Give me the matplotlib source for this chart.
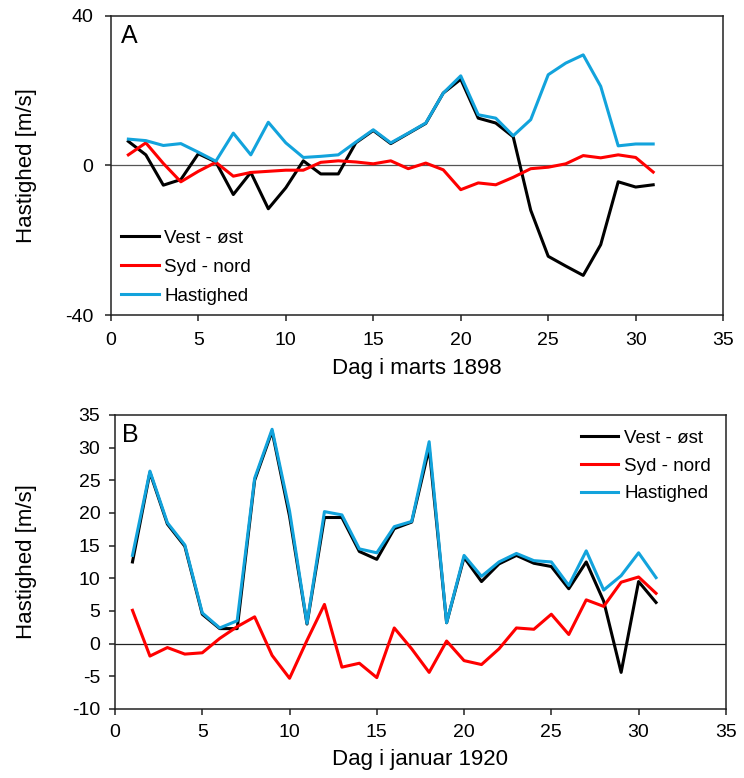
import matplotlib
matplotlib.use("Agg")
import matplotlib.pyplot as plt

plt.rcParams['font.family'] = ['Liberation Sans', 'DejaVu Sans']
plt.rcParams['axes.unicode_minus'] = False

# Panel A: marts 1898
dage_a = list(range(1, 32))
vest_oest_a = [6.4, 2.8, -5.3, -3.8, 3.1, 0.9, -7.8, -1.9, -11.6, -6.0,
               1.2, -2.3, -2.3, 6.0, 9.3, 5.8, 8.5, 11.2, 19.3, 23.0,
               12.6, 11.3, 7.6, -12.0, -24.3, -26.9, -29.4, -21.2, -4.4, -5.8,
               -5.2]
syd_nord_a = [2.8, 6.0, 0.5, -4.4, -1.6, 0.8, -2.9, -1.9, -1.6, -1.3,
              -1.3, 0.8, 1.2, 0.9, 0.4, 1.2, -0.9, 0.6, -1.2, -6.5,
              -4.7, -5.2, -3.2, -0.9, -0.5, 0.4, 2.6, 2.0, 2.8, 2.1,
              -1.8]
hastighed_a = [7.0, 6.6, 5.3, 5.8, 3.5, 1.1, 8.6, 2.8, 11.5, 6.0,
               2.1, 2.4, 2.8, 6.2, 9.5, 6.0, 8.6, 11.3, 19.3, 23.9,
               13.5, 12.6, 7.9, 12.2, 24.2, 27.3, 29.5, 21.1, 5.2, 5.7,
               5.7]

# Panel B: januar 1920
dage_b = list(range(1, 32))
vest_oest_b = [12.5, 26.2, 18.3, 14.9, 4.5, 2.3, 2.3, 25.0, 32.5, 19.5,
               3.0, 19.3, 19.3, 14.1, 12.9, 17.6, 18.6, 29.9, 3.2, 13.2,
               9.5, 12.2, 13.5, 12.3, 11.8, 8.4, 12.5, 6.5, -4.4, 9.5,
               6.3]
syd_nord_b = [5.1, -1.9, -0.6, -1.6, -1.4, 0.8, 2.6, 4.1, -1.8, -5.3,
              0.5, 6.0, -3.6, -3.0, -5.2, 2.4, -0.8, -4.4, 0.4, -2.6,
              -3.2, -0.8, 2.4, 2.2, 4.5, 1.4, 6.7, 5.7, 9.4, 10.2,
              7.7]
hastighed_b = [13.5, 26.4, 18.5, 15.1, 4.7, 2.4, 3.5, 25.3, 32.8, 20.3,
               3.1, 20.2, 19.7, 14.5, 13.9, 17.9, 18.7, 30.9, 3.2, 13.5,
               10.3, 12.5, 13.8, 12.7, 12.5, 8.9, 14.2, 8.2, 10.4, 13.9,
               10.1]

labels = ["Vest - øst", "Syd - nord", "Hastighed"]
colors = ["black", "#ff0000", "#12a3dc"]
lw = 2.2

fig = plt.figure(figsize=(7.44, 7.78), dpi=100)
ax1 = fig.add_axes([0.149, 0.595, 0.823, 0.385])
ax2 = fig.add_axes([0.1546, 0.0887, 0.821, 0.378])


def style(ax, pad):
    for s in ax.spines.values():
        s.set_linewidth(1.1)
        s.set_color("#222222")
    ax.tick_params(direction="out", length=4.5, width=1.1, labelsize=14,
                   pad=pad, colors="#222222", labelcolor="black")
    ax.set_xlim(0, 35)
    ax.set_xticks(range(0, 36, 5))


# top panel
ax1.axhline(0, color="#555555", lw=0.9, zorder=1)
ax1.plot(dage_a, vest_oest_a, color=colors[0], lw=lw, label=labels[0])
ax1.plot(dage_a, syd_nord_a, color=colors[1], lw=lw, label=labels[1])
ax1.plot(dage_a, hastighed_a, color=colors[2], lw=lw, label=labels[2])
style(ax1, 8)
ax1.set_ylim(-40, 40)
ax1.set_yticks([-40, 0, 40])
ax1.set_xlabel("Dag i marts 1898", fontsize=16, labelpad=6)
ax1.set_ylabel("Hastighed [m/s]", fontsize=16)
ax1.yaxis.set_label_coords(-0.120, 0.5)
ax1.text(0.016, 0.91, "A", transform=ax1.transAxes, fontsize=18, va="baseline")
ax1.legend(loc="lower left", bbox_to_anchor=(0.0, 0.0), frameon=False,
           fontsize=13.5, handlelength=2.0, handletextpad=0.3,
           labelspacing=0.63, borderaxespad=0.15)

# bottom panel
ax2.axhline(0, color="#222222", lw=0.9, zorder=1)
ax2.plot(dage_b, vest_oest_b, color=colors[0], lw=lw, label=labels[0])
ax2.plot(dage_b, syd_nord_b, color=colors[1], lw=lw, label=labels[1])
ax2.plot(dage_b, hastighed_b, color=colors[2], lw=lw, label=labels[2])
style(ax2, 6)
ax2.set_ylim(-10, 35)
ax2.set_yticks(range(-10, 36, 5))
ax2.set_xlabel("Dag i januar 1920", fontsize=16, labelpad=6)
ax2.set_ylabel("Hastighed [m/s]", fontsize=16)
ax2.yaxis.set_label_coords(-0.127, 0.5)
ax2.text(0.011, 0.909, "B", transform=ax2.transAxes, fontsize=18, va="baseline")
ax2.legend(loc="upper right", bbox_to_anchor=(1.0, 1.0), frameon=False,
           fontsize=13.5, handlelength=2.0, handletextpad=0.3,
           labelspacing=0.56, borderaxespad=0.4)

fig.savefig("out.png", dpi=100)
